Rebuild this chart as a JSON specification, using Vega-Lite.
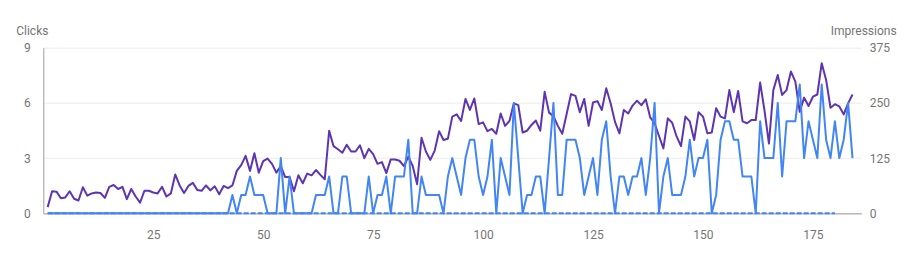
{
  "$schema": "https://vega.github.io/schema/vega-lite/v6.json",
  "autosize": "none",
  "width": 818,
  "height": 165.6,
  "padding": {"left": 43.3, "top": 47.7, "right": 51.7, "bottom": 54.7},
  "background": "white",
  "config": {
    "view": {"stroke": null},
    "font": "Roboto",
    "axis": {"labelFont": "Roboto", "titleFont": "Roboto", "labelColor": "#757575", "titleColor": "#757575", "labelFontSize": 12, "titleFontSize": 12, "titleFontWeight": "normal"}
  },
  "data": {"values": [
    {"d":1,"c":0,"i":14},{"d":2,"c":0,"i":50},{"d":3,"c":0,"i":49},{"d":4,"c":0,"i":34},{"d":5,"c":0,"i":36},
    {"d":6,"c":0,"i":50},{"d":7,"c":0,"i":33},{"d":8,"c":0,"i":29},{"d":9,"c":0,"i":59},{"d":10,"c":0,"i":40},
    {"d":11,"c":0,"i":45},{"d":12,"c":0,"i":47},{"d":13,"c":0,"i":46},{"d":14,"c":0,"i":35},{"d":15,"c":0,"i":60},
    {"d":16,"c":0,"i":64},{"d":17,"c":0,"i":55},{"d":18,"c":0,"i":60},{"d":19,"c":0,"i":32},{"d":20,"c":0,"i":55},
    {"d":21,"c":0,"i":38},{"d":22,"c":0,"i":24},{"d":23,"c":0,"i":51},{"d":24,"c":0,"i":51},{"d":25,"c":0,"i":47},
    {"d":26,"c":0,"i":45},{"d":27,"c":0,"i":60},{"d":28,"c":0,"i":38},{"d":29,"c":0,"i":45},{"d":30,"c":0,"i":88},
    {"d":31,"c":0,"i":63},{"d":32,"c":0,"i":46},{"d":33,"c":0,"i":62},{"d":34,"c":0,"i":69},{"d":35,"c":0,"i":53},
    {"d":36,"c":0,"i":51},{"d":37,"c":0,"i":63},{"d":38,"c":0,"i":52},{"d":39,"c":0,"i":61},{"d":40,"c":0,"i":43},
    {"d":41,"c":0,"i":62},{"d":42,"c":0,"i":57},{"d":43,"c":1,"i":63},{"d":44,"c":0,"i":96},{"d":45,"c":1,"i":109},
    {"d":46,"c":1,"i":130},{"d":47,"c":2,"i":96},{"d":48,"c":1,"i":136},{"d":49,"c":1,"i":92},{"d":50,"c":1,"i":118},
    {"d":51,"c":0,"i":124},{"d":52,"c":0,"i":112},{"d":53,"c":0,"i":92},{"d":54,"c":3,"i":107},{"d":55,"c":0,"i":82},
    {"d":56,"c":2,"i":82},{"d":57,"c":0,"i":50},{"d":58,"c":0,"i":86},{"d":59,"c":0,"i":68},{"d":60,"c":0,"i":90},
    {"d":61,"c":0,"i":86},{"d":62,"c":1,"i":98},{"d":63,"c":1,"i":87},{"d":64,"c":1,"i":77},{"d":65,"c":2,"i":187},
    {"d":66,"c":0,"i":152},{"d":67,"c":0,"i":145},{"d":68,"c":2,"i":137},{"d":69,"c":2,"i":155},{"d":70,"c":0,"i":140},
    {"d":71,"c":0,"i":140},{"d":72,"c":0,"i":154},{"d":73,"c":0,"i":125},{"d":74,"c":2,"i":146},{"d":75,"c":0,"i":134},
    {"d":76,"c":1,"i":112},{"d":77,"c":1,"i":116},{"d":78,"c":2,"i":91},{"d":79,"c":0,"i":122},{"d":80,"c":2,"i":122},
    {"d":81,"c":2,"i":119},{"d":82,"c":2,"i":107},{"d":83,"c":4,"i":128},{"d":84,"c":0,"i":107},{"d":85,"c":0,"i":66},
    {"d":86,"c":2,"i":171},{"d":87,"c":1,"i":140},{"d":88,"c":1,"i":121},{"d":89,"c":1,"i":142},{"d":90,"c":1,"i":186},
    {"d":91,"c":0,"i":166},{"d":92,"c":2,"i":169},{"d":93,"c":3,"i":219},{"d":94,"c":2,"i":224},{"d":95,"c":1,"i":209},
    {"d":96,"c":3,"i":259},{"d":97,"c":4,"i":234},{"d":98,"c":4,"i":260},{"d":99,"c":2,"i":202},{"d":100,"c":1,"i":206},
    {"d":101,"c":2,"i":186},{"d":102,"c":4,"i":191},{"d":103,"c":0,"i":180},{"d":104,"c":3,"i":226},{"d":105,"c":2,"i":198},
    {"d":106,"c":1,"i":209},{"d":107,"c":6,"i":249},{"d":108,"c":3,"i":245},{"d":109,"c":0,"i":183},{"d":110,"c":1,"i":187},
    {"d":111,"c":1,"i":200},{"d":112,"c":2,"i":210},{"d":113,"c":2,"i":187},{"d":114,"c":0,"i":275},{"d":115,"c":3,"i":228},
    {"d":116,"c":6,"i":220},{"d":117,"c":1,"i":198},{"d":118,"c":1,"i":180},{"d":119,"c":4,"i":225},{"d":120,"c":4,"i":270},
    {"d":121,"c":4,"i":266},{"d":122,"c":3,"i":229},{"d":123,"c":1,"i":259},{"d":124,"c":2,"i":198},{"d":125,"c":3,"i":251},
    {"d":126,"c":1,"i":254},{"d":127,"c":4,"i":234},{"d":128,"c":5,"i":283},{"d":129,"c":2,"i":249},{"d":130,"c":0,"i":207},
    {"d":131,"c":2,"i":181},{"d":132,"c":2,"i":234},{"d":133,"c":1,"i":226},{"d":134,"c":2,"i":244},{"d":135,"c":2,"i":255},
    {"d":136,"c":3,"i":245},{"d":137,"c":1,"i":258},{"d":138,"c":3,"i":217},{"d":139,"c":6,"i":204},{"d":140,"c":0,"i":175},
    {"d":141,"c":2,"i":147},{"d":142,"c":3,"i":215},{"d":143,"c":1,"i":205},{"d":144,"c":1,"i":174},{"d":145,"c":1,"i":152},
    {"d":146,"c":2,"i":219},{"d":147,"c":4,"i":208},{"d":148,"c":2,"i":166},{"d":149,"c":3,"i":229},{"d":150,"c":3,"i":219},
    {"d":151,"c":4,"i":181},{"d":152,"c":0,"i":183},{"d":153,"c":1,"i":238},{"d":154,"c":4,"i":219},{"d":155,"c":5,"i":215},
    {"d":156,"c":5,"i":279},{"d":157,"c":4,"i":229},{"d":158,"c":4,"i":277},{"d":159,"c":2,"i":208},{"d":160,"c":2,"i":204},
    {"d":161,"c":2,"i":211},{"d":162,"c":0,"i":211},{"d":163,"c":5,"i":296},{"d":164,"c":3,"i":232},{"d":165,"c":3,"i":158},
    {"d":166,"c":3,"i":279},{"d":167,"c":6,"i":313},{"d":168,"c":2,"i":268},{"d":169,"c":5,"i":279},{"d":170,"c":5,"i":321},
    {"d":171,"c":5,"i":298},{"d":172,"c":7,"i":230},{"d":173,"c":3,"i":262},{"d":174,"c":5,"i":243},{"d":175,"c":4,"i":264},
    {"d":176,"c":3,"i":269},{"d":177,"c":7,"i":340},{"d":178,"c":4,"i":302},{"d":179,"c":3,"i":239},{"d":180,"c":5,"i":247},
    {"d":181,"c":3,"i":242},{"d":182,"c":4,"i":224},{"d":183,"c":6,"i":249},{"d":184,"c":3,"i":269}
  ]},
  "encoding": {
    "x": {
      "field": "d", "type": "quantitative",
      "scale": {"domain": [0, 186], "nice": false, "zero": false},
      "axis": {"values": [25, 50, 75, 100, 125, 150, 175], "grid": false, "ticks": false, "tickSize": 0, "labelPadding": 16, "domainColor": "#9e9e9e", "domainWidth": 1, "title": null}
    }
  },
  "layer": [
    {
      "mark": {"type": "line", "color": "#5e35b1", "strokeWidth": 2, "strokeJoin": "round"},
      "encoding": {
        "y": {
          "field": "i", "type": "quantitative",
          "scale": {"domain": [0, 375], "nice": false},
          "axis": {"orient": "right", "values": [0, 125, 250, 375], "grid": false, "domain": false, "ticks": false, "tickSize": 0, "labelPadding": 8, "labelAlign": "left", "title": "Impressions", "titleAngle": 0, "titleAlign": "left", "titleBaseline": "middle", "titleX": -31, "titleY": -17}
        }
      }
    },
    {
      "layer": [
        {
          "mark": {"type": "line", "color": "#4285f4", "strokeWidth": 2, "strokeJoin": "round"},
          "encoding": {
            "y": {
              "field": "c", "type": "quantitative",
              "scale": {"domain": [0, 9], "nice": false},
              "axis": {"orient": "left", "values": [0, 3, 6, 9], "grid": true, "gridColor": "#ebebeb", "gridWidth": 1, "domain": true, "domainColor": "#9e9e9e", "ticks": false, "tickSize": 0, "labelPadding": 13, "title": "Clicks", "titleAngle": 0, "titleAlign": "left", "titleBaseline": "middle", "titleX": -27.6, "titleY": -17}
            }
          }
        },
        {
          "transform": [{"filter": "datum.d <= 180"}],
          "mark": {"type": "line", "color": "#4285f4", "strokeWidth": 2, "strokeDash": [5, 2]},
          "encoding": {
            "y": {"datum": 0, "type": "quantitative"}
          }
        }
      ]
    }
  ],
  "resolve": {"scale": {"y": "independent"}}
}
